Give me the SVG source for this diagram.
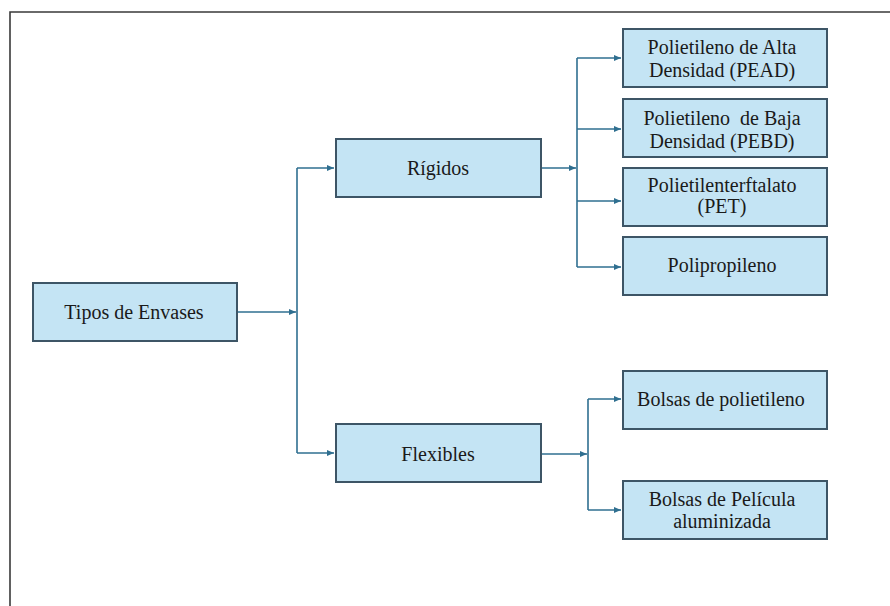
<svg xmlns="http://www.w3.org/2000/svg" width="890" height="606" viewBox="0 0 890 606">
<style>
.node rect{fill:#c4e4f4;stroke:#3d5566;stroke-width:2}
.node text{font-family:'Liberation Serif','Times New Roman','DejaVu Serif',serif;font-size:20px;fill:#1a1a1a;text-anchor:middle;white-space:pre}
.conn path{fill:none;stroke:#2f6f90;stroke-width:1.6}
.arr{marker-end:url(#ah)}
</style>
<defs>
<marker id="ah" markerUnits="userSpaceOnUse" markerWidth="8" markerHeight="8" refX="7" refY="4" orient="auto">
<path d="M0,1 L7,4 L0,7 Z" fill="#2f6f90"/>
</marker>
</defs>
<rect width="890" height="606" fill="#ffffff"/>
<path d="M10,606 V12 H890" fill="none" stroke="#3a3a3a" stroke-width="1.6"/>
<g id="connectors" class="conn">
<path class="arr" d="M237,312 H296"/>
<path d="M297,168 V453"/>
<path class="arr" d="M297,168 H334"/>
<path class="arr" d="M297,453 H334"/>
<path class="arr" d="M541,168 H576"/>
<path d="M577,58 V267"/>
<path class="arr" d="M577,58 H621"/>
<path class="arr" d="M577,129 H621"/>
<path class="arr" d="M577,201 H621"/>
<path class="arr" d="M577,267 H621"/>
<path class="arr" d="M541,454 H587"/>
<path d="M588,399 V510"/>
<path class="arr" d="M588,399 H621"/>
<path class="arr" d="M588,510 H621"/>
</g>
<g id="tipos" class="node"><rect x="33" y="283" width="204" height="58"/><text x="134" y="319" font-family="Liberation Serif, serif">Tipos de Envases</text></g>
<g id="rigidos" class="node"><rect x="336" y="139" width="205" height="58"/><text x="438" y="175" font-family="Liberation Serif, serif">Rígidos</text></g>
<g id="flexibles" class="node"><rect x="336" y="424" width="205" height="58"/><text x="438" y="461" font-family="Liberation Serif, serif">Flexibles</text></g>
<g id="pead" class="node"><rect x="623" y="29" width="204" height="58"/><text x="722" y="54" font-family="Liberation Serif, serif">Polietileno de Alta</text><text x="722" y="77" font-family="Liberation Serif, serif">Densidad (PEAD)</text></g>
<g id="pebd" class="node"><rect x="623" y="99" width="204" height="58"/><text x="722" y="125" font-family="Liberation Serif, serif">Polietileno  de Baja</text><text x="722" y="148" font-family="Liberation Serif, serif">Densidad (PEBD)</text></g>
<g id="pet" class="node"><rect x="623" y="168" width="204" height="58"/><text x="722" y="192" font-family="Liberation Serif, serif">Polietilenterftalato</text><text x="722" y="213" font-family="Liberation Serif, serif">(PET)</text></g>
<g id="pp" class="node"><rect x="623" y="237" width="204" height="58"/><text x="722" y="272" font-family="Liberation Serif, serif">Polipropileno</text></g>
<g id="bolsas-pe" class="node"><rect x="623" y="371" width="204" height="58"/><text x="721" y="406" font-family="Liberation Serif, serif">Bolsas de polietileno</text></g>
<g id="bolsas-al" class="node"><rect x="623" y="481" width="204" height="58"/><text x="722" y="506" font-family="Liberation Serif, serif">Bolsas de Película</text><text x="722" y="528" font-family="Liberation Serif, serif">aluminizada</text></g>
</svg>
